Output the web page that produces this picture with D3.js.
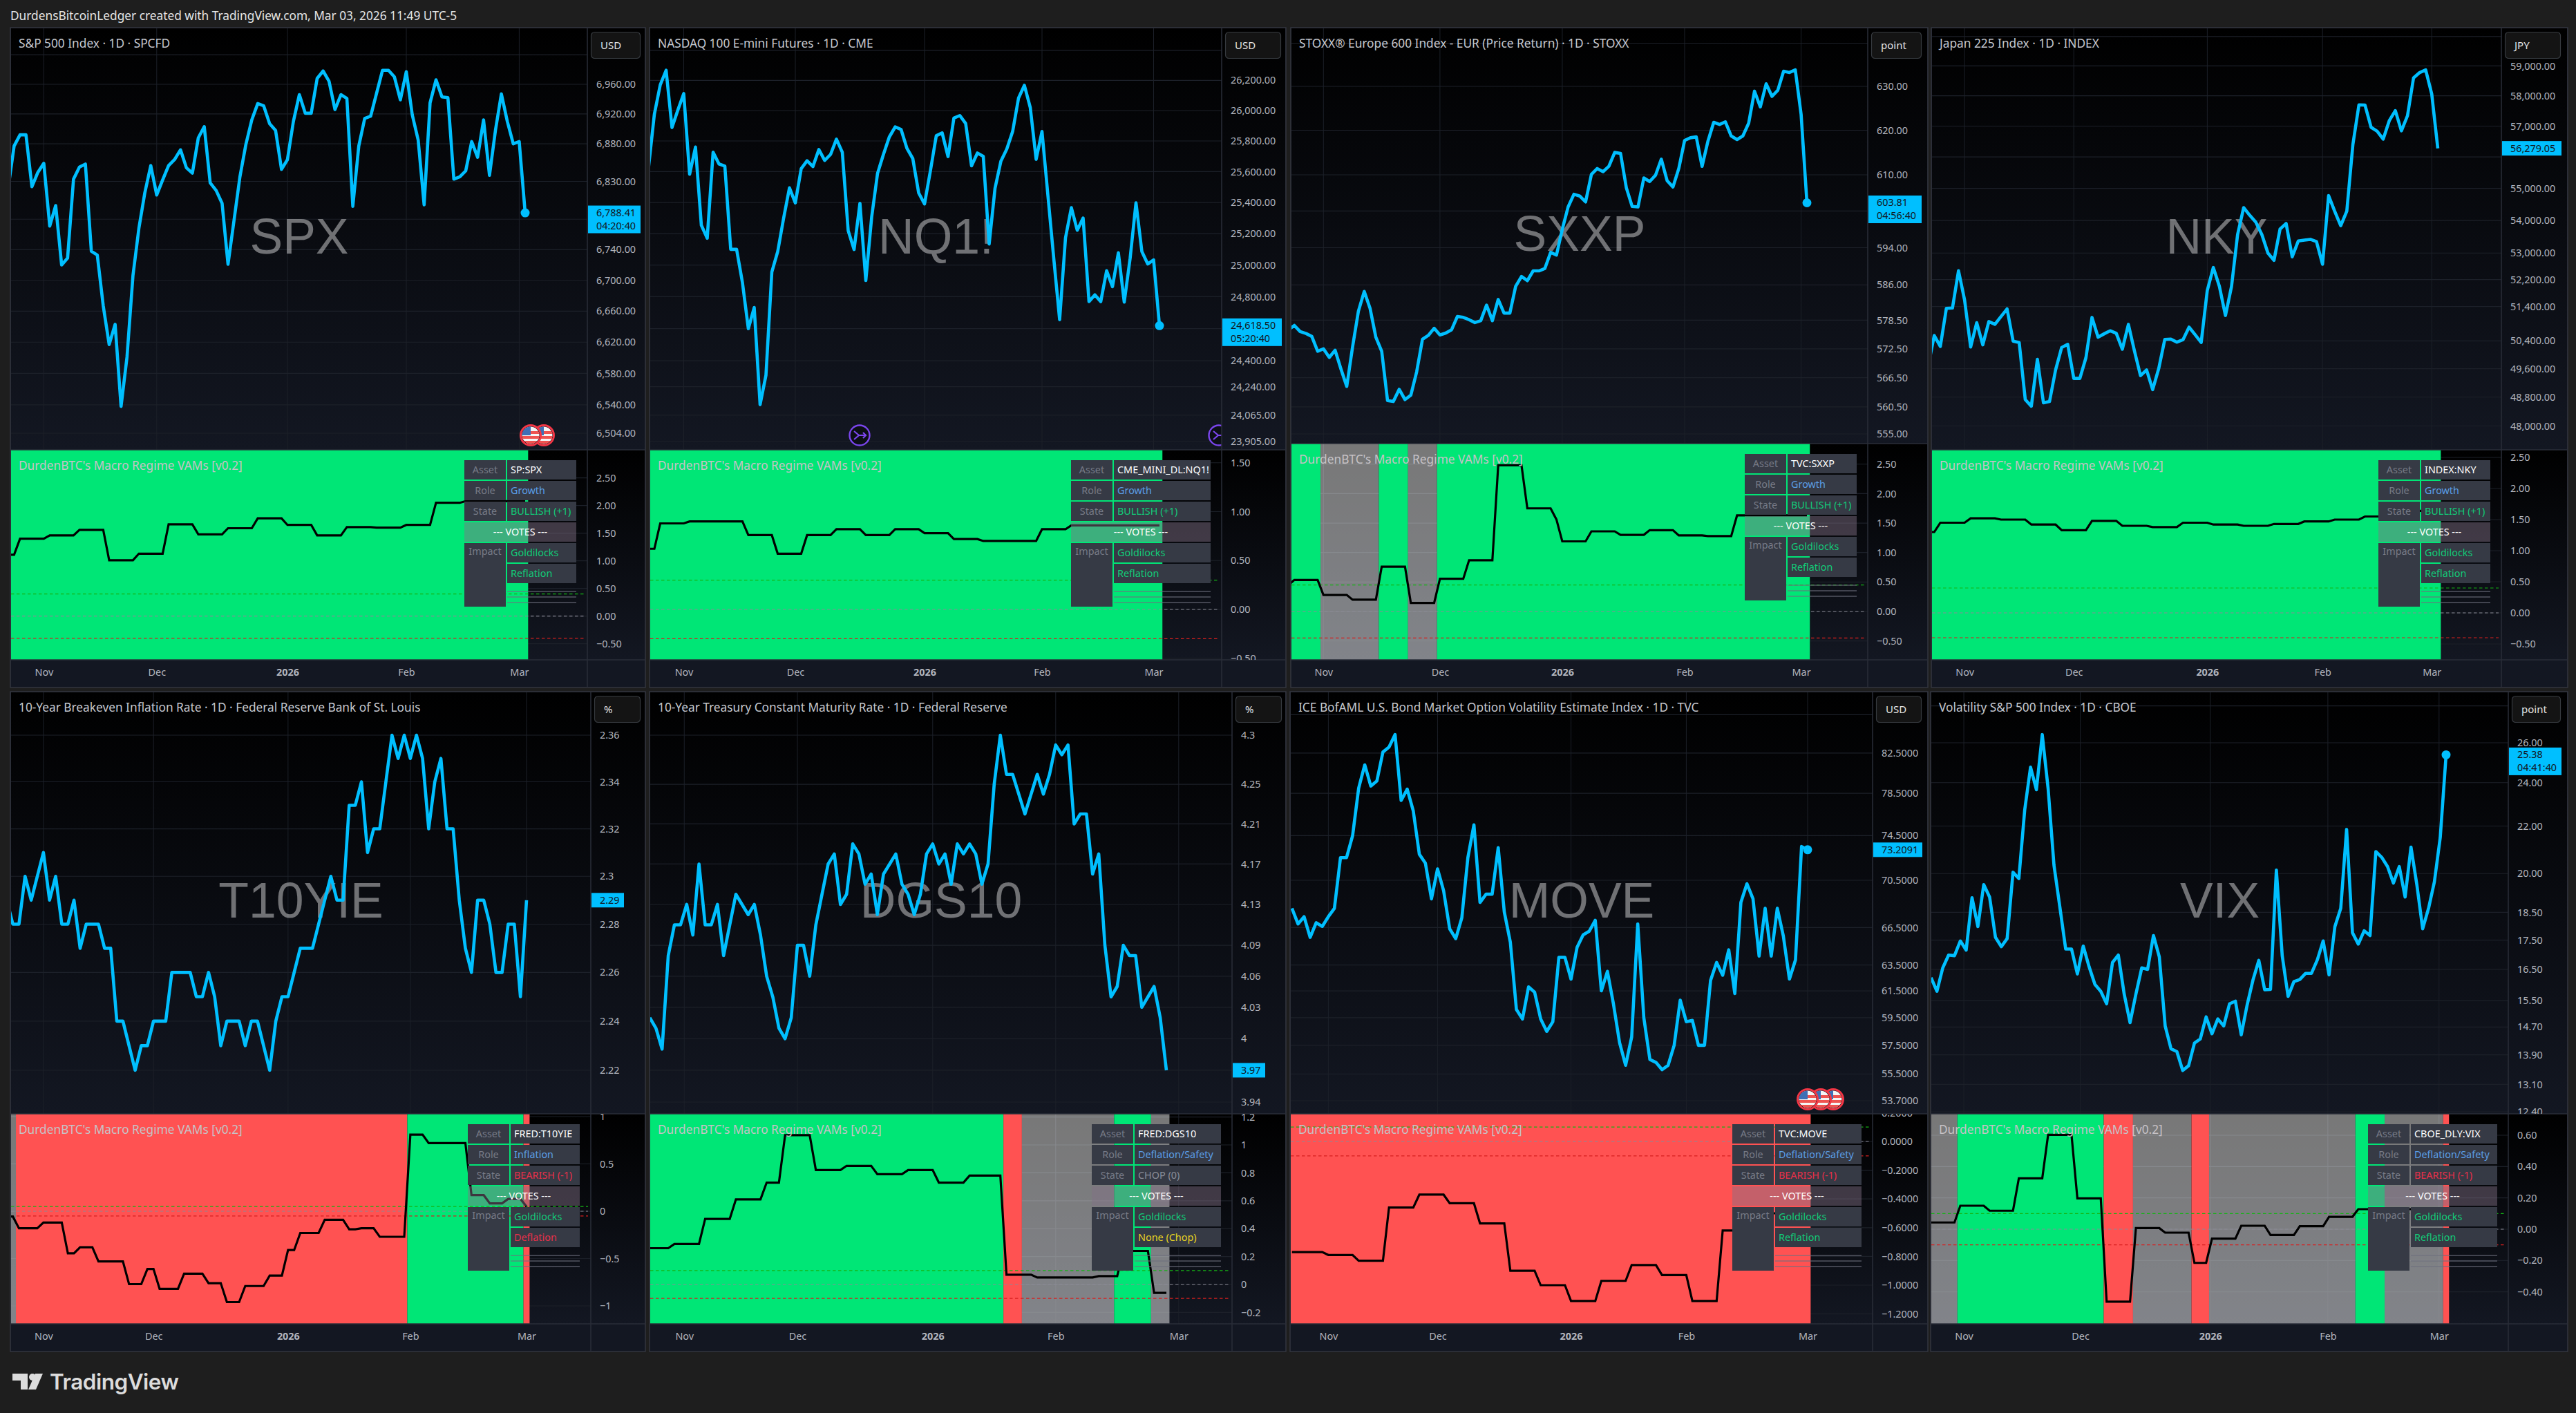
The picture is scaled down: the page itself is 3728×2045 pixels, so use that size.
<!DOCTYPE html>
<html><head><meta charset="utf-8">
<script src="https://cdnjs.cloudflare.com/ajax/libs/d3/7.8.5/d3.min.js"></script>
<style>html,body{margin:0;padding:0;background:#1e1e1e}svg{display:block}text{font-family:"Noto Sans",sans-serif}</style>
</head><body><svg id="c" width="3728" height="2045"></svg>
<script>
// ---------- price closes ----------
const spxValues=[6821,6877,6892,6892,6823,6842,6854,6771,6798,6720,6729,6833,6849,6853,6738,6733,6667,6617,6643,6538,6601,6706,6768,6815,6851,6812,6832,6851,6859,6872,6848,6841,6888,6903,6828,6818,6801,6721,6778,6836,6879,6912,6934,6931,6907,6898,6846,6859,6910,6946,6921,6921,6968,6978,6964,6926,6946,6941,6797,6877,6914,6917,6948,6979,6979,6970,6939,6977,6919,6885,6799,6935,6966,6943,6942,6833,6836,6844,6883,6862,6912,6838,6898,6947,6910,6880,6883,6788.41];
const nqValues=[25624,25976,26170,26267,25888,26003,26112,25583,25760,25254,25171,25726,25650,25636,25100,25100,24888,24600,24732,24130,24311,24956,25086,25298,25495,25398,25619,25671,25633,25744,25673,25712,25812,25726,25219,25099,25395,24902,25307,25589,25712,25826,25892,25876,25752,25685,25462,25391,25606,25835,25853,25698,25950,25967,25915,25638,25721,25700,25134,25492,25668,25747,25862,26082,26167,26020,25680,25862,25448,25042,24656,25174,25367,25222,25300,24769,24812,24769,24964,24863,25078,24766,25042,25398,25086,25007,25033,24618.5];
const sxxpValues=[576.5,577.4,576.1,575.7,575.1,572.0,572.5,570.7,572.2,568.3,564.7,572.9,580.4,584.6,581.0,574.9,572.0,561.8,561.6,564.1,562.0,562.9,567.7,574.5,575.3,576.8,575.4,575.8,576.5,579.3,579.1,578.6,578.0,578.4,581.7,578.4,582.9,580.0,580.0,585.7,587.8,586.9,589.0,589.0,589.5,593.0,592.4,598.0,602.9,605.7,605.3,604.0,610.1,611.4,610.7,611.9,615.0,614.8,607.1,603.0,602.9,609.3,608.5,609.9,613.5,608.7,607.3,611.4,617.7,618.3,618.5,611.9,617.5,621.8,621.3,621.9,618.7,617.9,618.7,621.6,628.9,625.3,630.6,627.7,629.1,633.5,633.2,633.8,623.6,603.81];
const nkyValues=[49682,50554,50238,51348,51356,52465,51591,50222,50927,50284,50959,50878,51105,51331,50392,50353,48732,48547,49867,48640,48678,49566,50207,50300,49327,49327,49914,51080,50505,50603,50692,50619,50160,50878,50107,49404,49566,49010,49605,50440,50449,50361,50432,50797,50578,50353,51874,52563,51996,51137,51996,53563,54398,54160,53947,53563,53000,52781,53734,53904,52887,53367,53393,53418,53350,52660,54773,54287,53836,54287,56395,57698,57689,56961,56835,56575,57177,57506,56844,57339,58596,58775,58865,58057,56279.05];
const t10Values=[2.29,2.28,2.28,2.30,2.29,2.30,2.31,2.29,2.30,2.28,2.28,2.29,2.27,2.28,2.28,2.28,2.27,2.27,2.24,2.24,2.23,2.22,2.23,2.23,2.24,2.24,2.24,2.26,2.26,2.26,2.26,2.25,2.25,2.26,2.25,2.23,2.24,2.24,2.24,2.23,2.24,2.24,2.23,2.22,2.24,2.25,2.25,2.26,2.27,2.27,2.27,2.28,2.29,2.30,2.29,2.29,2.33,2.33,2.34,2.31,2.32,2.32,2.34,2.36,2.35,2.36,2.35,2.36,2.35,2.32,2.34,2.35,2.32,2.32,2.29,2.27,2.26,2.29,2.29,2.28,2.26,2.26,2.28,2.28,2.25,2.29];
const dgsValues=[4.02,4.01,3.99,4.08,4.11,4.11,4.13,4.10,4.17,4.11,4.11,4.13,4.08,4.11,4.14,4.13,4.12,4.13,4.10,4.06,4.04,4.01,4.00,4.02,4.09,4.09,4.06,4.11,4.14,4.17,4.18,4.13,4.14,4.19,4.18,4.15,4.16,4.12,4.16,4.17,4.18,4.15,4.14,4.12,4.14,4.18,4.19,4.17,4.18,4.15,4.19,4.18,4.19,4.18,4.15,4.17,4.25,4.30,4.26,4.26,4.24,4.22,4.24,4.26,4.24,4.26,4.29,4.28,4.29,4.21,4.22,4.22,4.16,4.18,4.09,4.04,4.05,4.09,4.08,4.08,4.03,4.04,4.05,4.02,3.97];
const moveValues=[68.1,66.8,67.4,65.7,66.9,66.6,67.4,68.1,72.5,72.5,74.5,79.0,81.3,79.2,79.7,82.6,83.1,84.4,77.8,78.9,76.8,72.8,72.0,68.9,71.5,69.6,66.4,65.6,67.3,72.5,75.5,68.6,69.3,69.3,73.4,67.8,65.3,60.1,59.4,61.8,61.4,59.4,58.5,59.2,64.1,64.1,62.4,64.9,65.9,66.2,67.1,61.5,63.0,60.5,57.7,56.1,58.1,66.8,59.5,56.5,56.3,55.8,56.1,57.5,60.8,59.2,59.3,57.5,57.5,62.3,63.7,62.7,64.7,61.3,68.6,70.2,68.9,64.2,68.1,64.2,68.1,65.8,62.4,63.9,73.5,73.2091];
const vixValues=[16.23,15.79,16.55,16.98,16.96,17.47,17.15,19.05,17.98,19.56,19.08,17.6,17.27,17.55,20.05,19.8,22.72,24.76,23.66,26.43,23.72,20.34,18.71,17.19,17.19,16.35,17.29,16.59,16.01,15.79,15.4,16.73,16.98,15.7,14.83,15.7,16.55,16.5,17.66,16.92,14.73,14.07,13.99,13.47,13.6,14.23,14.35,15.0,14.5,14.94,14.73,15.4,15.48,14.47,15.36,16.15,16.8,15.84,15.85,20.14,16.96,15.63,16.1,16.17,16.37,16.37,16.82,17.47,16.32,17.98,18.65,21.85,17.76,17.36,17.83,17.66,20.9,20.66,20.28,19.62,20.28,19.08,21.09,19.56,17.9,18.65,19.67,21.5,25.38];

// ---------- indicator levels with the number of bars each level holds ----------
const spxLevels=[1.11,1.40,1.46,1.56,1.01,1.13,1.66,1.48,1.59,1.77,1.65,1.46,1.61,1.60,1.65,2.05,2.08,2.08];
const spxRuns=[2,5,5,5,5,5,5,5,5,5,5,5,5,5,5,5,5,6];
const nqLevels=[0.62,0.88,0.90,0.90,0.76,0.57,0.76,0.82,0.76,0.82,0.78,0.72,0.70,0.70,0.82,0.86,0.86,0.86];
const nqRuns=[2,5,5,5,5,5,5,5,5,5,5,5,5,5,5,5,5,6];
const sxxpLevels=[0.45,0.535,0.28,0.20,0.76,0.145,0.555,0.87,2.48,1.75,1.56,1.19,1.36,1.30,1.38,1.29,1.28,1.63];
const sxxpRuns=[1,5,5,5,5,5,5,5,5,5,1,5,5,5,5,5,5,13];
const nkyLevels=[1.30,1.45,1.52,1.50,1.42,1.33,1.48,1.40,1.38,1.45,1.42,1.40,1.43,1.47,1.50,1.55,1.64,1.64];
const nkyRuns=[2,5,5,5,5,5,5,5,5,5,5,5,5,5,5,5,5,3];
const t10Levels=[-0.056,-0.18,-0.12,-0.445,-0.38,-0.53,-0.77,-0.61,-0.82,-0.66,-0.76,-0.96,-0.79,-0.68,-0.41,-0.23,-0.09,-0.19,-0.18,-0.27,0.81,0.72,0.17,0.083,0.13,0.05];
const t10Runs=[2,4,4,2,3,5,3,2,4,4,3,3,4,3,2,4,4,2,3,5,3,7,3,3,3,1];
const dgsLevels=[0.26,0.29,0.47,0.61,0.73,1.07,0.82,0.85,0.79,0.82,0.73,0.78,0.07,0.05,0.05,0.06,0.24,-0.06];
const dgsRuns=[4,5,5,5,3,5,5,5,5,5,5,6,5,5,5,4,5,3];
const moveLevels=[-0.77,-0.79,-0.83,-0.46,-0.37,-0.43,-0.57,-0.90,-1.0,-1.11,-0.97,-0.86,-0.93,-1.11,-0.62,-0.5];
const moveRuns=[6,5,5,5,5,5,5,5,5,5,5,5,5,5,5,10];
const vixLevels=[0.043,0.15,0.118,0.325,0.603,0.197,-0.463,0.007,-0.022,-0.215,-0.06,0.022,-0.037,0.019,0.079,0.128];
const vixRuns=[5,5,5,5,5,5,5,5,5,3,5,5,5,5,5,16];

// ---------- regime background: state and number of bars ----------
const spxRegime=[["bull",88]];
const nqRegime=[["bull",88]];
const sxxpRegime=[["bull",6],["neut",10],["bull",5],["neut",5],["bull",64]];
const nkyRegime=[["bull",85]];
const t10Regime=[["neut",2],["bear",64],["bull",19],["bear",1]];
const dgsRegime=[["bull",58],["bear",3],["neut",15],["bull",6],["neut",3]];
const moveRegime=[["bear",86]];
const vixRegime=[["neut",5],["bull",25],["bear",5],["neut",10],["bear",3],["neut",25],["bull",5],["neut",10],["bear",1]];

// ---------- axis ticks (gridOnly: the gridline exists but its label sits under a box) ----------
const spxTicks=[7000,6960,6920,6880,6830,6780,6740,6700,6660,6620,6580,6540,6504];
const spxGridOnly=[7000,6780];
const nqTicks=[26400,26200,26000,25800,25600,25400,25200,25000,24800,24600,24400,24240,24065,23905];
const nqGridOnly=[26400,24600];
const sxxpTicks=[640,630,620,610,602,594,586,578.5,572.5,566.5,560.5,555];
const sxxpGridOnly=[640,602];
const nkyTicks=[60000,59000,58000,57000,56000,55000,54000,53000,52200,51400,50400,49600,48800,48000];
const nkyGridOnly=[60000,56000];
const t10Ticks=[2.36,2.34,2.32,2.3,2.28,2.26,2.24,2.22];
const t10GridOnly=[];
const dgsTicks=[4.3,4.25,4.21,4.17,4.13,4.09,4.06,4.03,4,3.97,3.94];
const dgsGridOnly=[3.97];
const moveTicks=[86.5,82.5,78.5,74.5,70.5,66.5,63.5,61.5,59.5,57.5,55.5,53.7];
const moveGridOnly=[86.5];
const vixTicks=[28,26,24,22,20,18.5,17.5,16.5,15.5,14.7,13.9,13.1,12.4];
const vixGridOnly=[28];
const ind1Ticks=[2.5,2,1.5,1,0.5,0,-0.5];
const nqIndTicks=[1.5,1,0.5,0,-0.5];
const t10IndTicks=[1,0.5,0,-0.5,-1];
const dgsIndTicks=[1.2,1,0.8,0.6,0.4,0.2,0,-0.2];
const moveIndTicks=[0.2,0,-0.2,-0.4,-0.6,-0.8,-1,-1.2];
const vixIndTicks=[0.6,0.4,0.2,0,-0.2,-0.4];
const monthLabels=["Nov","Dec","2026","Feb","Mar"];

const fmt2=d3.format(",.2f"), fmt4=d3.format(",.4f"), plain=v=>String(v).replace("-","\u2212");

// ---------- pane layout ----------
const panes=[
{sym:"SPX",title:"S&P 500 Index \u00b7 1D \u00b7 SPCFD",unit:"USD",v:spxValues,lv:spxLevels,rn:spxRuns,rg:spxRegime,t:spxTicks,go:spxGridOnly,it:ind1Ticks,fmt:fmt2,ifmt:fmt2,
 L:16,R:933,A:850,T:41,D:651,B:955,last:760,step:8.6,boxR:927,labW:76,anchor:[6960,6504,122,627],iz:[891.7,80],th:0.4,ticks:[6,25,47,67,86],
 last2:"04:20:40",dot:1,tab:["SP:SPX","Growth","BULLISH (+1)","Goldilocks","Reflation"],rw:100},
{sym:"NQ1!",title:"NASDAQ 100 E-mini Futures \u00b7 1D \u00b7 CME",unit:"USD",v:nqValues,lv:nqLevels,rn:nqRuns,rg:nqRegime,t:nqTicks,go:nqGridOnly,it:nqIndTicks,fmt:fmt2,ifmt:fmt2,
 L:941,R:1860,A:1768,T:41,D:651,B:955,last:1678,step:8.5,boxR:1854,labW:86,anchor:[26200,23905,116.3,639],iz:[882,141.5],th:0.3,ticks:[6,25,47,67,86],
 last2:"05:20:40",dot:1,tab:["CME_MINI_DL:NQ1!","Growth","BULLISH (+1)","Goldilocks","Reflation"],rw:140},
{sym:"SXXP",title:"STOXX\u00ae Europe 600 Index - EUR (Price Return) \u00b7 1D \u00b7 STOXX",unit:"point",v:sxxpValues,lv:sxxpLevels,rn:sxxpRuns,rg:sxxpRegime,t:sxxpTicks,go:sxxpGridOnly,it:ind1Ticks,fmt:fmt2,ifmt:fmt2,
 L:1869,R:2789,A:2703,T:41,D:642,B:955,last:2615,step:8.43,boxR:2781,labW:77,anchor:[630,555,125,628],iz:[885,85.3],th:0.45,ticks:[6,26,47,68,88],
 last2:"04:56:40",dot:1,tab:["TVC:SXXP","Growth","BULLISH (+1)","Goldilocks","Reflation"],rw:100},
{sym:"NKY",title:"Japan 225 Index \u00b7 1D \u00b7 INDEX",unit:"JPY",v:nkyValues,lv:nkyLevels,rn:nkyRuns,rg:nkyRegime,t:nkyTicks,go:nkyGridOnly,it:ind1Ticks,fmt:fmt2,ifmt:fmt2,
 L:2796,R:3715,A:3620,T:41,D:651,B:955,last:3528,step:8.78,boxR:3706,labW:86,anchor:[59000,48000,95.4,616.5],iz:[887,90],th:0.4,ticks:[6,24,46,65,83],
 dot:0,tab:["INDEX:NKY","Growth","BULLISH (+1)","Goldilocks","Reflation"],rw:100},
{sym:"T10YIE",title:"10-Year Breakeven Inflation Rate \u00b7 1D \u00b7 Federal Reserve Bank of St. Louis",unit:"%",v:t10Values,lv:t10Levels,rn:t10Runs,rg:t10Regime,t:t10Ticks,go:t10GridOnly,it:t10IndTicks,fmt:plain,ifmt:plain,
 L:16,R:933,A:855,T:1002,D:1612,B:1916,last:762,step:8.85,boxR:927,labW:47,anchor:[2.36,2.22,1064,1549],iz:[1753,137],th:0.05,ticks:[6,24,46,66,85],
 dot:0,tab:["FRED:T10YIE","Inflation","BEARISH (-1)","Goldilocks","Deflation"],rw:100},
{sym:"DGS10",title:"10-Year Treasury Constant Maturity Rate \u00b7 1D \u00b7 Federal Reserve",unit:"%",v:dgsValues,lv:dgsLevels,rn:dgsRuns,rg:dgsRegime,t:dgsTicks,go:dgsGridOnly,it:dgsIndTicks,fmt:plain,ifmt:plain,
 L:941,R:1860,A:1783,T:1002,D:1612,B:1916,last:1688,step:8.9,boxR:1855,labW:47,anchor:[4.3,3.94,1064,1595],iz:[1859,202],th:0.1,ticks:[5.6,24,46,66,86],
 dot:0,tab:["FRED:DGS10","Deflation/Safety","CHOP (0)","Goldilocks","None (Chop)"],rw:125},
{sym:"MOVE",title:"ICE BofAML U.S. Bond Market Option Volatility Estimate Index \u00b7 1D \u00b7 TVC",unit:"USD",v:moveValues,lv:moveLevels,rn:moveRuns,rg:moveRegime,t:moveTicks,go:moveGridOnly,it:moveIndTicks,fmt:fmt4,ifmt:fmt4,
 L:1868,R:2789,A:2710,T:1002,D:1612,B:1916,last:2616,step:8.78,boxR:2781,labW:71,anchor:[82.5,53.7,1089.8,1593],iz:[1652,208],th:0.1,ticks:[6,24,46,65,85],
 dot:1,tab:["TVC:MOVE","Deflation/Safety","BEARISH (-1)","Goldilocks","Reflation"],rw:125},
{sym:"VIX",title:"Volatility S&P 500 Index \u00b7 1D \u00b7 CBOE",unit:"point",v:vixValues,lv:vixLevels,rn:vixRuns,rg:vixRegime,t:vixTicks,go:vixGridOnly,it:vixIndTicks,fmt:fmt2,ifmt:fmt2,
 L:2795,R:3715,A:3630,T:1002,D:1612,B:1916,last:3540,step:8.47,boxR:3706,labW:76,anchor:[26,13.1,1075,1569.4],iz:[1779,226.7],th:0.1,ticks:[5.6,25.5,47.7,67.8,86.8],
 last2:"04:41:40",dot:1,tab:["CBOE_DLY:VIX","Deflation/Safety","BEARISH (-1)","Goldilocks","Reflation"],rw:125}
];

const svg=d3.select("#c"), defs=svg.append("defs");
const grad=defs.append("linearGradient").attr("id","bg").attr("x1",0).attr("y1",0).attr("x2",0).attr("y2",1);
grad.append("stop").attr("offset",0).attr("stop-color","#000");
grad.append("stop").attr("offset",1).attr("stop-color","#131722");

const FS=14.4, TS=17.3, GRID="#1c2029", BORDER="#2a2e39";
const regimeColor={bull:"#00e676",bear:"#ff5252",neut:"rgba(255,255,255,0.47)"};
const txtColor={"BULLISH (+1)":"#12cb78","BEARISH (-1)":"#e8304a","CHOP (0)":"#8a8e99",Goldilocks:"#12cb78",Reflation:"#12cb78",Deflation:"#e8304a","None (Chop)":"#e6d422",Growth:"#5b9ee6",Inflation:"#5b9ee6","Deflation/Safety":"#5b9ee6"};

svg.append("text").attr("x",15).attr("y",29).attr("fill","#e4e4e4").attr("font-size",TS)
  .text("DurdensBitcoinLedger created with TradingView.com, Mar 03, 2026 11:49 UTC-5");

function flag(g,cx,cy){
  const id="f"+Math.round(cx)+"_"+Math.round(cy);
  defs.append("clipPath").attr("id",id).append("circle").attr("cx",cx).attr("cy",cy).attr("r",12.5);
  g.append("circle").attr("cx",cx).attr("cy",cy).attr("r",14).attr("fill","#0c0f16");
  const f=g.append("g").attr("clip-path",`url(#${id})`);
  f.append("rect").attr("x",cx-13).attr("y",cy-13).attr("width",26).attr("height",26).attr("fill","#f5f5f5");
  [-6,1,8].forEach(o=>f.append("rect").attr("x",cx-13).attr("y",cy+o).attr("width",26).attr("height",4).attr("fill","#ef5350"));
  f.append("rect").attr("x",cx-13).attr("y",cy-13).attr("width",13).attr("height",13).attr("fill","#3f6fb5");
  g.append("circle").attr("cx",cx).attr("cy",cy).attr("r",14.5).attr("fill","none").attr("stroke","#f23645").attr("stroke-width",3);
}
function merge(g,cx,cy){
  g.append("circle").attr("cx",cx).attr("cy",cy).attr("r",14.5).attr("fill","#0c0f16").attr("stroke","#7b46ee").attr("stroke-width",2.4);
  g.append("path").attr("d",`M${cx-8} ${cy-6} L${cx-1} ${cy} L${cx-8} ${cy+6} M${cx-1} ${cy} H${cx+9} M${cx+5} ${cy-4} L${cx+9} ${cy} L${cx+5} ${cy+4}`)
   .attr("fill","none").attr("stroke","#7b46ee").attr("stroke-width",2.2);
}

panes.forEach((p,idx)=>{
  const g=svg.append("g");
  const n=p.v.length;
  const x=d3.scaleLinear().domain([0,n-1]).range([p.last-(n-1)*p.step,p.last]);
  const y=d3.scaleLog().domain([p.anchor[0],p.anchor[1]]).range([p.anchor[2],p.anchor[3]]);
  const yi=d3.scaleLinear().domain([0,1]).range([p.iz[0],p.iz[0]-p.iz[1]]);
  const bottom=p.B+39;

  // clips
  const cid=k=>`${k}${idx}`;
  const clip=(k,x0,y0,x1,y1)=>defs.append("clipPath").attr("id",cid(k)).append("rect").attr("x",x0).attr("y",y0).attr("width",x1-x0).attr("height",y1-y0);
  clip("pc",p.L,p.T,p.A,p.D); clip("ic",p.L,p.D,p.A,p.B); clip("pa",p.A,p.T,p.R,p.D); clip("ia",p.A,p.D,p.R,p.B);

  // backgrounds
  g.append("rect").attr("x",p.L-1).attr("y",p.T-1).attr("width",p.R-p.L+2).attr("height",bottom-p.T+2).attr("fill","#131722").attr("stroke","#33363f").attr("stroke-width",1.5);
  g.append("rect").attr("x",p.L).attr("y",p.T).attr("width",p.R-p.L).attr("height",p.D-p.T).attr("fill","url(#bg)");
  g.append("rect").attr("x",p.L).attr("y",p.D).attr("width",p.R-p.L).attr("height",p.B-p.D).attr("fill","url(#bg)");

  // month grid
  const pc=g.append("g").attr("clip-path",`url(#${cid("pc")})`);
  const ic=g.append("g").attr("clip-path",`url(#${cid("ic")})`);
  [pc,ic].forEach(h=>h.append("g").selectAll("line").data(p.ticks).join("line")
    .attr("x1",d=>x(d)).attr("x2",d=>x(d)).attr("y1",p.T).attr("y2",p.B).attr("stroke",GRID).attr("stroke-width",1));
  pc.append("g").selectAll("line").data(p.t).join("line")
    .attr("x1",p.L).attr("x2",p.A).attr("y1",d=>y(d)).attr("y2",d=>y(d)).attr("stroke",GRID).attr("stroke-width",1.2);
  ic.append("g").selectAll("line").data(p.it).join("line")
    .attr("x1",p.L).attr("x2",p.A).attr("y1",d=>yi(d)).attr("y2",d=>yi(d)).attr("stroke",GRID).attr("stroke-width",1.2);

  // watermark
  pc.append("text").attr("x",(p.L+p.A)/2).attr("y",(p.T+p.D)/2+21).attr("text-anchor","middle")
    .attr("font-size",71.5).attr("fill","rgba(255,255,255,0.42)").style("font-family","'Liberation Sans',Arial,sans-serif").text(p.sym);

  // regime bands
  let start=0;
  const bands=p.rg.map(([s,c])=>{const b={s,i0:start,i1:start+c};start+=c;return b;});
  ic.append("g").selectAll("rect").data(bands).join("rect")
    .attr("x",b=>x(b.i0-0.5)).attr("width",b=>x(b.i1-0.5)-x(b.i0-0.5))
    .attr("y",p.D).attr("height",p.B-p.D).attr("fill",b=>regimeColor[b.s]);

  // threshold lines
  const dash=[[p.th,"#14b414"],[0,"#8a8a96"],[-p.th,"#d81f1f"]];
  ic.append("g").selectAll("line").data(dash).join("line")
    .attr("x1",p.L).attr("x2",p.A-4).attr("y1",d=>yi(d[0])).attr("y2",d=>yi(d[0]))
    .attr("stroke",d=>d[1]).attr("stroke-width",1.2).attr("stroke-dasharray","4.5 3.5");

  // indicator line
  const ivals=p.lv.flatMap((v,k)=>d3.range(p.rn[k]).map(()=>v));
  ic.append("path").datum(ivals).attr("fill","none").attr("stroke","#000").attr("stroke-width",3.2).attr("stroke-linejoin","miter")
    .attr("d",d3.line().x((d,i)=>x(i)).y(d=>yi(d)));

  // price line
  pc.append("path").datum(p.v).attr("fill","none").attr("stroke","#00bfff").attr("stroke-width",4.6).attr("stroke-linejoin","round")
    .attr("d",d3.line().x((d,i)=>x(i)).y(d=>y(d)));
  if(p.dot) pc.append("circle").attr("cx",x(n-1)).attr("cy",y(p.v[n-1])).attr("r",6.5).attr("fill","#00bfff");

  // event markers
  if(p.sym==="SPX"){flag(pc,787,630);flag(pc,768,630);}
  if(p.sym==="MOVE"){flag(pc,2653,1591);flag(pc,2635,1591);flag(pc,2616,1591);}
  if(p.sym==="NQ1!"){merge(pc,1244,630);merge(pc,1764,630);}

  // separators
  const sep=(x1,y1,x2,y2)=>g.append("line").attr("x1",x1).attr("y1",y1).attr("x2",x2).attr("y2",y2).attr("stroke",BORDER).attr("stroke-width",1.5);
  sep(p.A,p.T,p.A,bottom); sep(p.L,p.D,p.R,p.D); sep(p.L,p.B,p.R,p.B);

  // titles
  g.append("text").attr("x",p.L+11).attr("y",p.T+28).attr("font-size",TS).attr("fill","#c4c7ce").text(p.title);
  g.append("text").attr("x",p.L+11).attr("y",p.D+29).attr("font-size",TS).attr("fill","#c6c2c6").text("DurdenBTC's Macro Regime VAMs [v0.2]");

  // price axis
  const axP=d3.axisRight(y).tickValues(p.t).tickSize(0).tickPadding(0).tickFormat(d=>p.go.includes(d)?"":p.fmt(d));
  const gp=g.append("g").attr("clip-path",`url(#${cid("pa")})`).append("g").attr("transform",`translate(${p.A+13},0)`).call(axP);
  gp.select(".domain").remove();
  gp.selectAll("text").attr("font-size",FS).attr("fill","#b2b5be").style("font-family",'"Noto Sans",sans-serif');
  const axI=d3.axisRight(yi).tickValues(p.it).tickSize(0).tickPadding(0).tickFormat(p.ifmt);
  const gi=g.append("g").attr("clip-path",`url(#${cid("ia")})`).append("g").attr("transform",`translate(${p.A+13},0)`).call(axI);
  gi.select(".domain").remove();
  gi.selectAll("text").attr("font-size",FS).attr("fill","#b2b5be").style("font-family",'"Noto Sans",sans-serif');

  // time axis
  const axT=d3.axisBottom(x).tickValues(p.ticks).tickSize(0).tickPadding(0).tickFormat((d,i)=>monthLabels[i]);
  const gt=g.append("g").attr("transform",`translate(0,${p.B+13})`).call(axT);
  gt.select(".domain").remove();
  gt.selectAll("text").attr("font-size",FS).attr("fill","#b2b5be").style("font-family",'"Noto Sans",sans-serif')
    .attr("font-weight",(d,i)=>monthLabels[i]==="2026"?700:400);

  // last value box
  const lastV=p.v[n-1], ly=y(lastV);
  const two=!!p.last2, bh=two?40:21, lx=p.A+1, lw=p.labW;
  g.append("rect").attr("x",lx).attr("y",ly-10.5).attr("width",lw).attr("height",bh).attr("fill","#00bfff");
  g.append("text").attr("x",p.A+13).attr("y",ly+5).attr("font-size",FS).attr("fill","#131722").text(p.fmt(lastV));
  if(two) g.append("text").attr("x",p.A+13).attr("y",ly+23.5).attr("font-size",FS).attr("fill","#131722").text(p.last2);

  // unit box
  g.append("rect").attr("x",p.A+5.5).attr("y",p.T+5.5).attr("width",p.boxR-p.A-6).attr("height",38).attr("rx",5)
    .attr("fill","#141414").attr("stroke","#363a3f").attr("stroke-width",1.2);
  g.append("text").attr("x",p.A+19).attr("y",p.T+30).attr("font-size",FS+.6).attr("fill","#e2e2e2").text(p.unit);

  // status table
  const tR=p.A-16, lw0=60, gap=2, rw=p.rw, tL=tR-rw-gap-lw0, tT=p.D+15, pitch=30, ch=28;
  const tg=g.append("g");
  const cellFill="#363a45", labCol="#777b87";
  ["Asset","Role","State"].forEach((s,i)=>{
    const yy=tT+i*pitch;
    tg.append("rect").attr("x",tL).attr("y",yy).attr("width",lw0).attr("height",ch).attr("fill",cellFill);
    tg.append("text").attr("x",tL+lw0/2).attr("y",yy+19).attr("text-anchor","middle").attr("font-size",FS).attr("fill",labCol).text(s);
    tg.append("rect").attr("x",tL+lw0+gap).attr("y",yy).attr("width",rw).attr("height",ch).attr("fill",cellFill);
    tg.append("text").attr("x",tL+lw0+gap+5).attr("y",yy+19).attr("font-size",FS).attr("fill",i===0?"#fff":txtColor[p.tab[i]]).text(p.tab[i]);
  });
  const vy=tT+3*pitch;
  tg.append("rect").attr("x",tL).attr("y",vy).attr("width",lw0+gap+rw).attr("height",ch).attr("fill","rgba(130,113,133,0.47)");
  tg.append("text").attr("x",tL+(lw0+gap+rw)/2).attr("y",vy+19).attr("text-anchor","middle").attr("font-size",FS).attr("fill","#fff").text("--- VOTES ---");
  const iy=tT+4*pitch;
  tg.append("rect").attr("x",tL).attr("y",iy).attr("width",lw0).attr("height",92).attr("fill",cellFill);
  tg.append("text").attr("x",tL+lw0/2).attr("y",iy+17).attr("text-anchor","middle").attr("font-size",FS).attr("fill",labCol).text("Impact");
  [3,4].forEach((k,j)=>{
    const yy=iy+j*pitch;
    tg.append("rect").attr("x",tL+lw0+gap).attr("y",yy).attr("width",rw).attr("height",ch).attr("fill",cellFill);
    tg.append("text").attr("x",tL+lw0+gap+5).attr("y",yy+19).attr("font-size",FS).attr("fill",txtColor[p.tab[k]]).text(p.tab[k]);
  });
  [0,1,2].forEach(j=>tg.append("rect").attr("x",tL+lw0+gap).attr("y",iy+69+j*8).attr("width",rw).attr("height",2).attr("fill","rgba(110,112,125,0.55)"));
});

// footer wordmark
const foot=svg.append("g").attr("fill","#dcdcdc");
foot.append("path").attr("d","M18 1988 H40 V2011 H30 V1998 H18 Z");
foot.append("circle").attr("cx",47).attr("cy",1993).attr("r",5);
foot.append("path").attr("d","M51 1988 H62 L52 2011 H41 Z");
foot.append("text").attr("x",72).attr("y",2011).attr("font-size",31.5).attr("font-weight",600).style("font-family","Inter,Roboto,sans-serif").attr("letter-spacing","-0.5").text("TradingView");
</script></body></html>
